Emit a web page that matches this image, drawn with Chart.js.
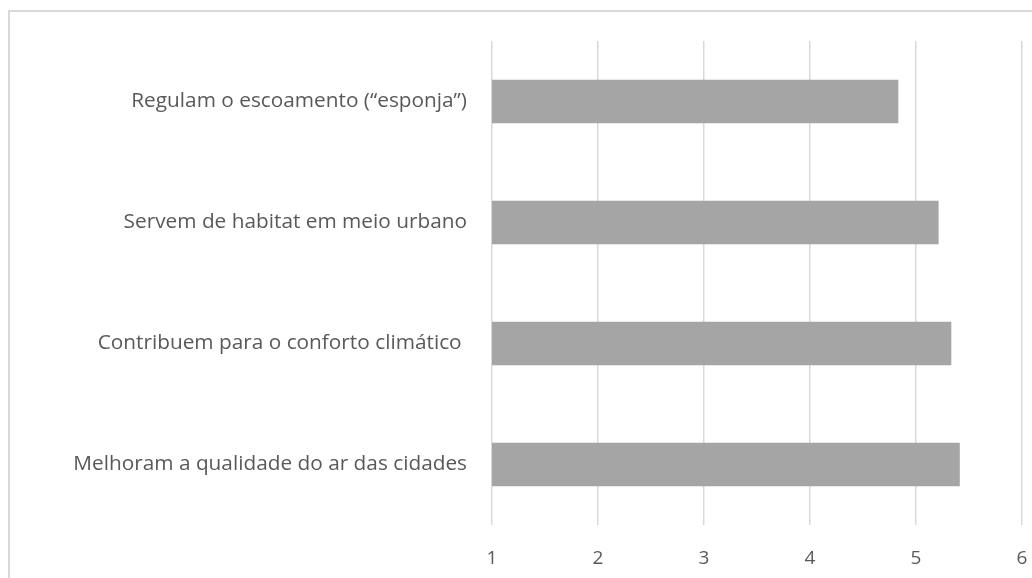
<!DOCTYPE html>
<html>
<head>
<meta charset="utf-8">
<script src="https://cdn.jsdelivr.net/npm/chart.js@4"></script>
<style>
  html, body { margin: 0; padding: 0; background: #ffffff; overflow: hidden; }
  #wrap { position: relative; width: 1032px; height: 578px; }
  #frame { position: absolute; left: 8px; top: 10px; width: 1100px; height: 700px;
           border-left: 2px solid #d9d9d9; border-top: 2px solid #d9d9d9; box-sizing: border-box; }
  canvas { position: absolute; left: 0; top: 0; }
</style>
</head>
<body>
<div id="wrap">
  <div id="frame"></div>
  <canvas id="c" width="1032" height="578"></canvas>
</div>
<script>
const categories = [
  'Regulam o escoamento (\u201cesponja\u201d)',
  'Servem de habitat em meio urbano',
  'Contribuem para o conforto climático ',
  'Melhoram a qualidade do ar das cidades'
];
const values = [4.83, 5.21, 5.33, 5.41];
const xTicks = [1, 2, 3, 4, 5, 6];

const FONT = 'Open Sans';
const TEXT = '#595959';
const GRID = '#d9d9d9';

new Chart(document.getElementById('c'), {
  type: 'bar',
  data: {
    labels: categories,
    datasets: [{
      data: values,
      backgroundColor: '#a5a5a5',
      borderWidth: 0,
      barThickness: 43
    }]
  },
  options: {
    indexAxis: 'y',
    responsive: false,
    animation: false,
    layout: { padding: { top: 41, right: 10, left: 0, bottom: 0 } },
    plugins: { legend: { display: false }, tooltip: { enabled: false } },
    scales: {
      x: {
        min: 1,
        max: 6,
        afterBuildTicks: (s) => { s.ticks = xTicks.map(v => ({ value: v })); },
        grid: { color: GRID, lineWidth: 1.5, drawTicks: false },
        border: { display: false },
        ticks: { color: TEXT, font: { family: FONT, size: 19 }, padding: 22 },
        afterFit: (s) => { s.height = 53; s.paddingLeft = 0; s.paddingRight = 0; }
      },
      y: {
        grid: { display: false, drawTicks: false },
        border: { display: false },
        ticks: { color: TEXT, font: { family: FONT, size: 20.8 }, padding: 25 },
        afterFit: (s) => { s.width = 492; s.paddingTop = 0; s.paddingBottom = 0; }
      }
    }
  }
});
</script>
</body>
</html>
